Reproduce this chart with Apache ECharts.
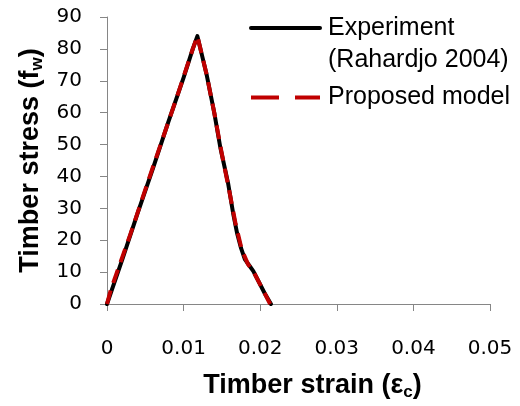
<!DOCTYPE html>
<html>
<head>
<meta charset="utf-8">
<script src="https://cdn.jsdelivr.net/npm/echarts@6/dist/echarts.min.js"></script>
<style>
  html, body { margin: 0; padding: 0; background: #fff; }
  #chart { width: 520px; height: 406px; }
</style>
</head>
<body>
<div id="chart"></div>
<script>
// Measured stress-strain response (strain, stress)
const experimentStrain = [0, 0.002, 0.004, 0.006, 0.008, 0.010, 0.0112, 0.0118, 0.0130, 0.0140, 0.0148, 0.0158, 0.0165, 0.0170, 0.0175, 0.0180, 0.0186, 0.0191, 0.0206, 0.0214];
const experimentStress = [0, 14, 28.5, 42.5, 57, 71, 80, 84, 72, 60, 49, 38, 28, 22, 17.5, 14, 12, 10.3, 3.3, 0];

// Model prediction (strain, stress)
const modelStrain = [0, 0.0005, 0.003, 0.006, 0.009, 0.0112, 0.0118, 0.0130, 0.0140, 0.0150, 0.0160, 0.0168, 0.0176, 0.0184, 0.0192, 0.0213];
const modelStress = [0, 4.5, 21.5, 43, 64, 80, 84, 72, 60, 47, 35, 25, 17, 12.5, 9.8, 0];

const xTickLabels = ['0', '0.01', '0.02', '0.03', '0.04', '0.05'];
const yTickLabels = ['0', '10', '20', '30', '40', '50', '60', '70', '80', '90'];

const seriesNames = ['Experiment', 'Proposed model'];
const experimentNote = '(Rahardjo 2004)';

const pair = (xs, ys) => xs.map((x, i) => [x, ys[i]]);

const axisGrey = '#868686';
const tickFont = { fontFamily: 'DejaVu Sans', fontSize: 20, color: '#000' };
const titleFont = { fontFamily: 'Liberation Sans', fontSize: 27, fontWeight: 'bold', color: '#000' };
const subStyle = { fontFamily: 'Liberation Sans', fontSize: 17, fontWeight: 'bold', color: '#000', padding: [13, 0, 0, 0] };
const legendFont = { fontFamily: 'Liberation Sans', fontSize: 25, color: '#000' };

const chart = echarts.init(document.getElementById('chart'), null, { renderer: 'canvas' });

chart.setOption({
  animation: false,
  backgroundColor: '#fff',
  grid: { left: 107, right: 30, top: 17, bottom: 99, containLabel: false },
  xAxis: {
    type: 'value', min: 0, max: 0.05, interval: 0.01,
    axisLine: { show: true, lineStyle: { color: axisGrey, width: 1 } },
    axisTick: { show: true, length: 7, lineStyle: { color: axisGrey } },
    splitLine: { show: false },
    axisLabel: Object.assign({ margin: 35, formatter: (v) => xTickLabels[Math.round(v / 0.01)] }, tickFont),
    name: 'Timber strain (ε{sub|c})',
    nameLocation: 'middle', nameGap: 67,
    nameTextStyle: Object.assign({ padding: [0, 0, 0, 28], rich: { sub: subStyle } }, titleFont)
  },
  yAxis: {
    type: 'value', min: 0, max: 90, interval: 10,
    axisLine: { show: true, lineStyle: { color: axisGrey, width: 1 } },
    axisTick: { show: true, length: 7, lineStyle: { color: axisGrey } },
    splitLine: { show: false },
    axisLabel: Object.assign({ margin: 25, formatter: (v) => yTickLabels[Math.round(v / 10)] }, tickFont),
    name: 'Timber stress (f{sub|w})',
    nameLocation: 'middle', nameGap: 58, nameRotate: 90,
    nameTextStyle: Object.assign({ rich: { sub: subStyle } }, titleFont)
  },
  legend: [
    {
      data: [seriesNames[0]],
      left: 249, top: -20, padding: 0,
      itemWidth: 69, itemHeight: 14,
      itemStyle: { opacity: 0 },
      lineStyle: { width: 4 },
      // a leading blank line keeps the first text line level with the key
      formatter: (name) => '\n' + name + '\n' + experimentNote,
      textStyle: Object.assign({ lineHeight: 32, padding: [0, 0, 0, 3] }, legendFont)
    },
    {
      data: [seriesNames[1]],
      left: 249, top: 85, padding: 0,
      itemWidth: 69, itemHeight: 14,
      itemStyle: { opacity: 0 },
      lineStyle: { width: 4, type: [28, 16] },
      textStyle: Object.assign({ padding: [0, 0, 0, 3] }, legendFont)
    }
  ],
  series: [
    {
      name: seriesNames[0], type: 'line', symbol: 'none',
      data: pair(experimentStrain, experimentStress),
      lineStyle: { color: '#000', width: 4, join: 'round', cap: 'round' },
      itemStyle: { color: '#000' }
    },
    {
      name: seriesNames[1], type: 'line', symbol: 'none',
      data: pair(modelStrain, modelStress),
      lineStyle: { color: '#C00000', width: 4, type: [14, 8], join: 'round' },
      itemStyle: { color: '#C00000' }
    }
  ]
});
</script>
</body>
</html>
